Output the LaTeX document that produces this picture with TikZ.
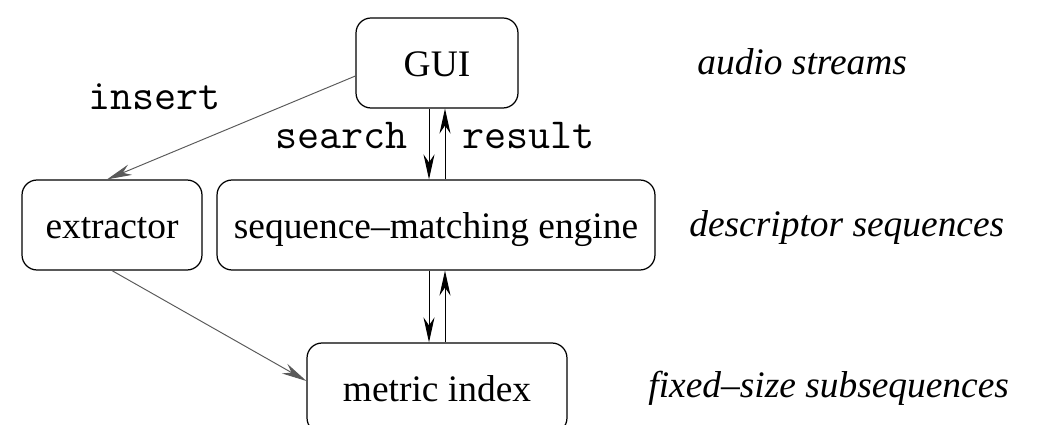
\documentclass[tikz,border=0pt]{standalone}
\usepackage{fontspec}
\setmainfont{Liberation Serif}
\usetikzlibrary{positioning,arrows.meta,calc}
\tikzset{
  block/.style={draw, rounded corners=0.3cm, line width=0.7pt, minimum height=1.8cm,
                inner sep=0pt, text height=0.55cm, text depth=0cm,
                font=\fontsize{21.3}{25}\selectfont},
  layer/.style={anchor=base west, inner sep=0pt, font=\fontsize{21.3}{25}\selectfont\itshape},
  msg/.style={inner sep=0pt, text=black, font=\fontsize{24.4}{28}\selectfont\ttfamily},
  flow/.style={-{Stealth[length=5mm, width=2.2mm, inset=1.6mm]}, line width=0.55pt},
  side/.style={flow, black!65}
}
\begin{document}
\begin{tikzpicture}[x=0.02cm, y=-0.02cm]
\useasboundingbox (0,0) rectangle (1039,425);
% components
\node (gui) [block, minimum width=3.24cm] at (437,63) {GUI};
\node (extr) [block, minimum width=3.6cm] at (112,225) {extractor};
\node (engine) [block, minimum width=8.76cm] at (436,225) {sequence--matching engine};
\node (index) [block, minimum width=5.2cm] at (437,388) {metric index};
% data at each level
\node (lstream) [layer] at (697,75) {audio streams};
\node (ldesc) [layer] at (689,237) {descriptor sequences};
\node (lsub) [layer] at (648,398) {fixed--size subsequences};
% query path
\draw[flow] ([xshift=-0.16cm]gui.south) -- ([xshift=-0.16cm]gui.south |- engine.north)
  node (search) [msg, midway, left=0.42cm, yshift=0.16cm] {search};
\draw[flow] ([xshift=0.16cm]gui.south |- engine.north) -- ([xshift=0.16cm]gui.south)
  node (result) [msg, midway, right=0.34cm, yshift=0.16cm] {result};
\draw[flow] ([xshift=-0.16cm]gui.south |- engine.south) -- ([xshift=-0.16cm]gui.south |- index.north);
\draw[flow] ([xshift=0.16cm]gui.south |- index.north) -- ([xshift=0.16cm]gui.south |- engine.south);
% insertion path
\draw[side] ([yshift=-0.26cm]gui.west) -- ([xshift=-0.1cm]extr.north)
  node (insert) [msg, midway, above left=0.35cm and 0.2cm] {insert};
\draw[side] (extr.south) -- ([yshift=0.14cm]index.west);
\end{tikzpicture}
\end{document}
